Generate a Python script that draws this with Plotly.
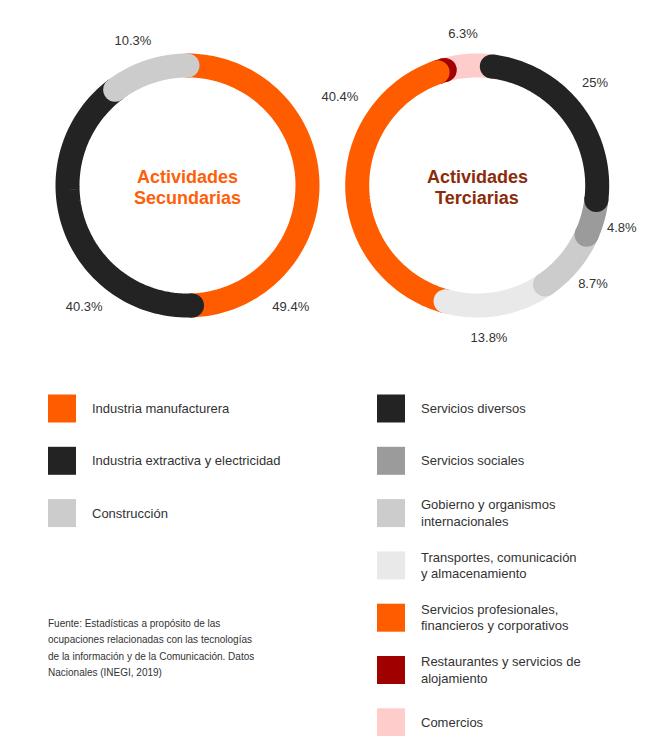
import numpy as np
import plotly.graph_objects as go

# ---------------- data ----------------
sec_title = ["Actividades", "Secundarias"]
sec_labels = ["Industria manufacturera", "Industria extractiva y electricidad", "Construcción"]
sec_values = [49.4, 40.3, 10.3]
sec_colors = ["#FF5C00", "#232323", "#CCCCCC"]

ter_title = ["Actividades", "Terciarias"]
ter_labels = ["Servicios diversos", "Servicios sociales",
              "Gobierno y organismos<br>internacionales",
              "Transportes, comunicación<br>y almacenamiento",
              "Servicios profesionales,<br>financieros y corporativos",
              "Restaurantes y servicios de<br>alojamiento", "Comercios"]
ter_values = [25, 4.8, 8.7, 13.8, 40.4, 1.0, 6.3]
ter_colors = ["#232323", "#9B9B9B", "#CCCCCC", "#E9E9E9", "#FF5C00", "#A00000", "#FFCCCC"]
ter_show = [True, True, True, True, True, False, True]

source_lines = ["Fuente: Estadísticas a propósito de las",
                "ocupaciones relacionadas con las tecnologías",
                "de la información y de la Comunicación. Datos",
                "Nacionales (INEGI, 2019)"]

# label placement (angle clockwise from top, radius in px)
sec_label_pos = [(139.8, 160), (220.2, 160), (339.2, 153.5)]
ter_label_pos = [(49.3, 155.5), (106.7, 151), (130.7, 152.7), (175.6, 154),
                 (302.5, 162.7), (0, 100), (354.6, 151)]

W, H = 660, 736
R_OUT, THICK = 132, 24
R_MID = R_OUT - THICK / 2
R_AX = 172  # radial axis extent in px (room for outside labels)
FONT = "Liberation Sans, Arial, sans-serif"
TXT = "#333333"

fig = go.Figure()


def add_donut(values, colors, rotation, order, polar_id, label_pos, show):
    total = float(sum(values))
    cum = np.concatenate([[0.0], np.cumsum(values)])
    starts = rotation + 360.0 * cum[:-1] / total
    ends = rotation + 360.0 * cum[1:] / total
    for i in order:
        th = np.linspace(starts[i], ends[i], 80)
        fig.add_trace(go.Scatterpolar(
            r=[R_MID] * len(th), theta=th, mode="lines",
            line=dict(color=colors[i], width=THICK),
            subplot=polar_id, hoverinfo="skip", showlegend=False, cliponaxis=False))
        fig.add_trace(go.Scatterpolar(
            r=[R_MID, R_MID], theta=[starts[i], ends[i]], mode="markers",
            marker=dict(color=colors[i], size=THICK, line=dict(width=0)),
            subplot=polar_id, hoverinfo="skip", showlegend=False, cliponaxis=False))
    texts = [f"{v:g}%" if s else "" for v, s in zip(values, show)]
    fig.add_trace(go.Scatterpolar(
        r=[p[1] for p in label_pos], theta=[p[0] for p in label_pos],
        mode="text", text=texts, textposition="middle center",
        textfont=dict(family=FONT, size=13, color=TXT),
        subplot=polar_id, hoverinfo="skip", showlegend=False, cliponaxis=False))


add_donut(sec_values, sec_colors, 0, [0, 1, 2], "polar", sec_label_pos, [True] * 3)
add_donut(ter_values, ter_colors, 7, list(range(len(ter_values)))[::-1], "polar2",
          ter_label_pos, ter_show)

centers = [(187.5, 185.5), (477.2, 185.5)]


def polar_layout(cx, cy):
    return dict(
        domain=dict(x=[(cx - R_AX) / W, (cx + R_AX) / W],
                    y=[(H - cy - R_AX) / H, (H - cy + R_AX) / H]),
        bgcolor="rgba(0,0,0,0)",
        radialaxis=dict(range=[0, R_AX], visible=False),
        angularaxis=dict(rotation=90, direction="clockwise", visible=False),
    )


annotations = []
# centre titles
for (cx, cy), title, col in [(centers[0], sec_title, "#FF5F0A"), (centers[1], ter_title, "#8B2C0B")]:
    for k, line in enumerate(title):
        annotations.append(dict(
            x=cx, y=cy - 9 + 21.6 * k, xref="x", yref="y", text=f"<b>{line}</b>",
            showarrow=False, xanchor="center", yanchor="middle",
            font=dict(family=FONT, size=18, color=col)))

# legend swatches
ROW0, ROWSTEP = 408.5, 52.3
fig.add_trace(go.Scatter(
    x=[62] * len(sec_labels), y=[ROW0 + ROWSTEP * i for i in range(len(sec_labels))],
    mode="markers", marker=dict(symbol="square", size=28, color=sec_colors, line=dict(width=0)),
    hoverinfo="skip", showlegend=False, xaxis="x", yaxis="y"))
fig.add_trace(go.Scatter(
    x=[391] * len(ter_labels), y=[ROW0 + ROWSTEP * i for i in range(len(ter_labels))],
    mode="markers", marker=dict(symbol="square", size=28, color=ter_colors, line=dict(width=0)),
    hoverinfo="skip", showlegend=False, xaxis="x", yaxis="y"))


def legend_text(x, labels):
    for i, lab in enumerate(labels):
        lines = lab.split("<br>")
        n = len(lines)
        for k, ln in enumerate(lines):
            yy = ROW0 + ROWSTEP * i + (k - (n - 1) / 2) * 16.3
            annotations.append(dict(
                x=x, y=yy, xref="x", yref="y", text=ln, showarrow=False,
                xanchor="left", yanchor="middle",
                font=dict(family=FONT, size=13, color=TXT)))


legend_text(90, sec_labels)
legend_text(419, ter_labels)

for k, ln in enumerate(source_lines):
    annotations.append(dict(
        x=46, y=623.5 + 16.3 * k, xref="x", yref="y", text=ln, showarrow=False,
        xanchor="left", yanchor="middle", font=dict(family=FONT, size=10, color=TXT)))

fig.update_layout(
    width=W, height=H, margin=dict(l=0, r=0, t=0, b=0),
    paper_bgcolor="white", plot_bgcolor="rgba(0,0,0,0)",
    polar=polar_layout(*centers[0]), polar2=polar_layout(*centers[1]),
    xaxis=dict(range=[0, W], domain=[0, 1], visible=False, fixedrange=True),
    yaxis=dict(range=[H, 0], domain=[0, 1], visible=False, fixedrange=True),
    annotations=annotations, showlegend=False,
)

fig.write_html("out.html", config={"displayModeBar": False})
